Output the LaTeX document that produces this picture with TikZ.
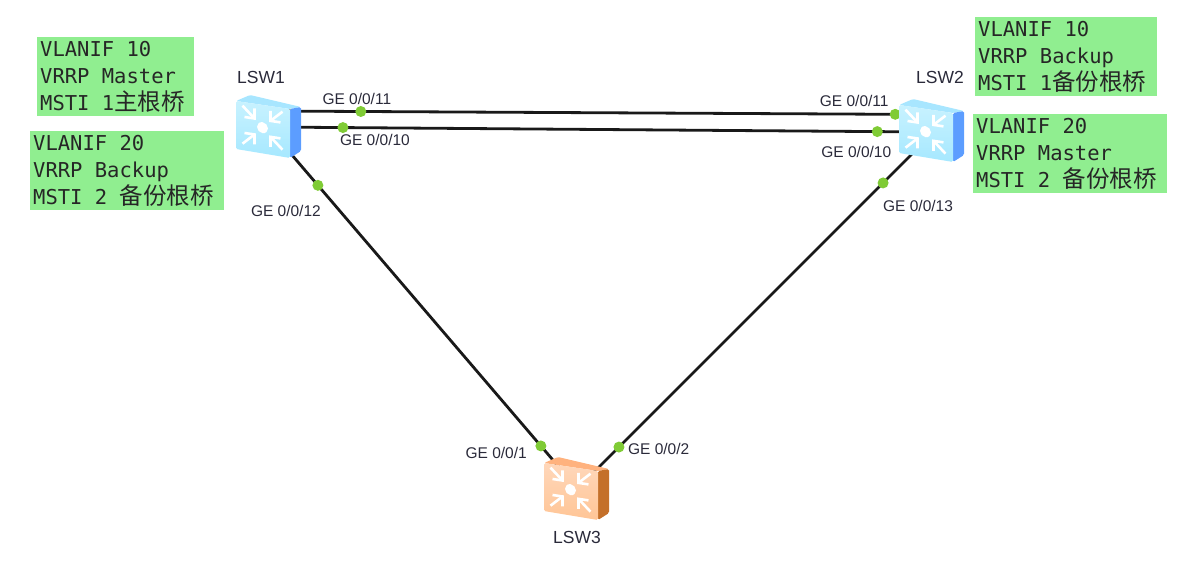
\documentclass[tikz,border=0pt]{standalone}
\usepackage{fontspec}
\setsansfont{Liberation Sans}
\setmonofont{DejaVu Sans Mono}
\newfontfamily\cjk{Noto Sans CJK SC}
\definecolor{notegreen}{HTML}{90EE90}
\definecolor{portgreen}{HTML}{7FCB35}
\definecolor{labelgray}{HTML}{2A2A3A}
\definecolor{bluetop}{HTML}{A8E6FF}
\definecolor{blueside}{HTML}{5C9DFF}
\definecolor{bluefront}{HTML}{C8F2FF}
\definecolor{bluelow}{HTML}{A6E8FF}
\definecolor{orangetop}{HTML}{FFB27E}
\definecolor{orangeside}{HTML}{C4702A}
\definecolor{orangefront}{HTML}{FFD7BA}
\definecolor{orangelow}{HTML}{FFC596}
\usetikzlibrary{positioning}
\usetikzlibrary{arrows}
\tikzset{
switch_node/.style={inner sep=0, minimum size=50pt},
link/.style={draw=black!90, line width=2.8pt},
port_dot/.style={circle, fill=portgreen, inner sep=0, minimum size=11pt},
port_label/.style={inner sep=0, text=labelgray, font=\sffamily\fontsize{15.5}{15.5}\selectfont},
switch_label/.style={inner sep=0, text=labelgray, font=\sffamily\fontsize{17.5}{18}\selectfont},
green_note/.style={anchor=north west, fill=notegreen, align=flush left, inner xsep=3pt, inner ysep=3pt, text width=#1, minimum height=79pt, text=black!85, font=\ttfamily\fontsize{20.5}{27}\selectfont},
pics/switch_icon/.style n args={4}{code={
    \fill[#1, rounded corners=1.5pt] (-32,-26) -- (-18,-32) -- (33,-20) -- (22,-18) -- cycle;
    \fill[#2, rounded corners=1.5pt] (22,-18) -- (33,-20) -- (33,24) -- (22,31) -- cycle;
    \shade[top color=#3, bottom color=#4, rounded corners=1.5pt] (-32,-26) -- (22,-18) -- (22,31) -- (-32,22) -- cycle;
    \begin{scope}[yslant=-0.15, shift={(-5.5,1.5)}, white, line width=2.6pt]
        \fill (0,0) circle (5.5pt);
        \foreach \sx/\sy in {-1/-1, 1/-1, -1/1, 1/1} {
            \draw (\sx*20,\sy*19) -- (\sx*8,\sy*8);
            \draw (\sx*18,\sy*8) -- (\sx*8,\sy*8) -- (\sx*8,\sy*18);
        }
    \end{scope}
}}
}
\newcommand{\zh}[1]{{\cjk\fontsize{23.5}{27}\selectfont #1}}
\begin{document}
\begin{tikzpicture}[x=1pt, y=-1pt]
    \useasboundingbox (0,0) rectangle (1194,567);
    \node[switch_node] (lsw1) at (268,127) {};
    \node[switch_node] (lsw2) at (931,132) {};
    \node[switch_node] (lsw3) at (576,487) {};
    \coordinate (lsw1_upper) at (268,111);
    \coordinate (lsw2_upper) at (931,114.5);
    \coordinate (lsw2_lower) at (931,135);
    \coordinate (lsw3_right) at (576,490);

    \draw[link] (lsw1_upper) -- (lsw2_upper) node[port_dot, pos=.14] (port_1_11) {} node[port_dot, pos=.946] (port_2_11) {};
    \draw[link] (lsw1.center) -- (lsw2.center) node[port_dot, pos=.113] (port_1_10) {} node[port_dot, pos=.919] (port_2_10) {};
    \draw[link] (lsw1.center) -- (lsw3.center) node[port_dot, pos=.162] (port_1_12) {} node[port_dot, pos=.886] (port_3_1) {};
    \draw[link] (lsw2_lower) -- (lsw3_right) node[port_dot, pos=.135] (port_2_13) {} node[port_dot, pos=.879] (port_3_2) {};

    \pic at (lsw1) {switch_icon={bluetop}{blueside}{bluefront}{bluelow}};
    \pic at (931,131) {switch_icon={bluetop}{blueside}{bluefront}{bluelow}};
    \pic at (576,489) {switch_icon={orangetop}{orangeside}{orangefront}{orangelow}};

    \node[switch_label] (name_1) at (261,77) {LSW1};
    \node[switch_label] (name_2) at (940,77) {LSW2};
    \node[switch_label] (name_3) at (577,537) {LSW3};

    \node[port_label] (label_1_11) [above=0pt of port_1_11, xshift=-4pt] {GE 0/0/11};
    \node[port_label] (label_1_10) [below=0pt of port_1_10, xshift=32pt] {GE 0/0/10};
    \node[port_label] (label_1_12) [below=13pt of port_1_12, xshift=-32pt] {GE 0/0/12};
    \node[port_label] (label_2_11) [above=1pt of port_2_11, xshift=-41pt] {GE 0/0/11};
    \node[port_label] (label_2_10) [below=8pt of port_2_10, xshift=-21pt] {GE 0/0/10};
    \node[port_label] (label_2_13) [below=10pt of port_2_13, xshift=35pt] {GE 0/0/13};
    \node[port_label] (label_3_1) [left=7pt of port_3_1, yshift=-7pt] {GE 0/0/1};
    \node[port_label] (label_3_2) [right=2pt of port_3_2, yshift=-2pt] {GE 0/0/2};

    \node[green_note=151pt] (note_1_10) at (37,37) {VLANIF 10\\VRRP Master\\MSTI 1\zh{主根桥}};
    \node[green_note=188pt] (note_1_20) at (30,131) {VLANIF 20\\VRRP Backup\\MSTI 2 \zh{备份根桥}};
    \node[green_note=176pt] (note_2_10) at (975,17) {VLANIF 10\\VRRP Backup\\MSTI 1\zh{备份根桥}};
    \node[green_note=188pt] (note_2_20) at (973,114) {VLANIF 20\\VRRP Master\\MSTI 2 \zh{备份根桥}};
\end{tikzpicture}
\end{document}
